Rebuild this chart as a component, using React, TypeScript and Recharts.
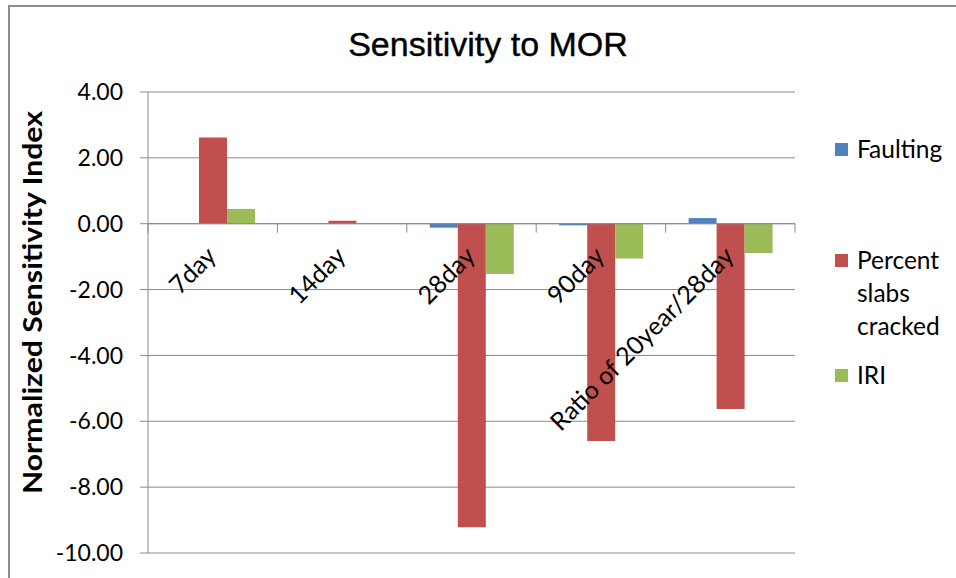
import {
  ComposedChart,
  Bar,
  Line,
  XAxis,
  YAxis,
  CartesianGrid,
  ReferenceLine,
  LabelList,
  Label,
} from "recharts";

const categories = ["7day", "14day", "28day", "90day", "Ratio of 20year/28day"];
const faulting = [0, 0, -0.12, -0.05, 0.17];
const percentSlabsCracked = [2.62, 0.09, -9.22, -6.6, -5.63];
const iri = [0.45, 0, -1.53, -1.06, -0.89];
const yTicks = [4, 2, 0, -2, -4, -6, -8, -10];

const series = [
  { key: "faulting", label: ["Faulting"], color: "#4F81BD" },
  { key: "percent", label: ["Percent", "slabs", "cracked"], color: "#C0504D" },
  { key: "iri", label: ["IRI"], color: "#9BBB59" },
];

const data = categories.map((name, i) => ({
  name,
  faulting: faulting[i],
  percent: percentSlabsCracked[i],
  iri: iri[i],
  zero: 0,
}));

const W = 956;
const H = 578;
const margin = { top: 92, right: 161, bottom: 25, left: 0 };
const yAxisWidth = 148;
const band = (W - margin.left - margin.right - yAxisWidth) / categories.length;
const grid = "#8a8a8a";
const font = "Lato, 'Open Sans', sans-serif";

function CategoryLabel(props: any) {
  const { x, y, value, index } = props;
  const ax = x + 5;
  const ay = y + 34;
  return (
    <g>
      <line x1={x - band / 2} x2={x - band / 2} y1={y} y2={y + 9} stroke={grid} />
      {index === categories.length - 1 && (
        <line x1={x + band / 2} x2={x + band / 2} y1={y} y2={y + 9} stroke={grid} />
      )}
      <text
        x={ax}
        y={ay}
        textAnchor="end"
        transform={`rotate(-45 ${ax} ${ay})`}
        fontFamily={font}
        fontSize={25}
        fill="#000"
      >
        {value}
      </text>
    </g>
  );
}

function YTitle(props: any) {
  const { viewBox } = props;
  const cx = 32;
  const cy = viewBox.y + viewBox.height / 2 - 20;
  return (
    <text
      x={cx}
      y={cy}
      textAnchor="middle"
      dominantBaseline="central"
      transform={`rotate(-90 ${cx} ${cy})`}
      fontFamily={font}
      fontWeight="bold"
      fontSize={26}
      textLength={383}
      lengthAdjust="spacingAndGlyphs"
      fill="#000"
    >
      Normalized Sensitivity Index
    </text>
  );
}

export default function App() {
  return (
    <div
      style={{
        position: "fixed",
        inset: 0,
        overflow: "hidden",
        background: "#fff",
      }}
    >
      <div
        style={{
          position: "absolute",
          left: 8,
          top: 5,
          width: 1000,
          height: 700,
          borderLeft: "2px solid #8c8c8c",
          borderTop: "2px solid #8c8c8c",
        }}
      />
      <div
        style={{
          position: "absolute",
          left: 0,
          top: 25,
          width: 976,
          textAlign: "center",
          fontFamily: "'Liberation Sans', Arial, sans-serif",
          fontSize: 34,
          color: "#000",
          WebkitTextStroke: "0.4px #000",
        }}
      >
        Sensitivity to MOR
      </div>
      <div style={{ position: "absolute", left: 0, top: 0 }}>
        <ComposedChart width={W} height={H} data={data} margin={margin} barGap={0}>
          <CartesianGrid vertical={false} stroke={grid} />
          <XAxis dataKey="name" hide />
          <YAxis
            width={yAxisWidth}
            domain={[-10, 4]}
            ticks={yTicks}
            interval={0}
            tickFormatter={(v: number) => v.toFixed(2)}
            tick={{ fill: "#000", fontSize: 23, fontFamily: font }}
            tickSize={8}
            tickMargin={17}
            axisLine={{ stroke: grid }}
            tickLine={{ stroke: grid }}
          >
            <Label content={YTitle} />
          </YAxis>
          {series.map((s) => (
            <Bar
              key={s.key}
              dataKey={s.key}
              fill={s.color}
              barSize={28}
              isAnimationActive={false}
            />
          ))}
          <ReferenceLine y={0} stroke={grid} />
          <Line
            dataKey="zero"
            stroke="none"
            dot={false}
            activeDot={false}
            isAnimationActive={false}
          >
            <LabelList dataKey="name" content={CategoryLabel} />
          </Line>
        </ComposedChart>
      </div>
      <div
        style={{
          position: "absolute",
          left: 835,
          top: 132,
          fontFamily: font,
          fontSize: 24.5,
          color: "#000",
        }}
      >
        {series.map((s, i) => (
          <div
            key={s.key}
            style={{
              display: "flex",
              alignItems: "flex-start",
              marginBottom: i === 0 ? 78 : 16,
            }}
          >
            <div
              style={{
                width: 13,
                height: 13,
                background: s.color,
                marginTop: 11,
                marginRight: 9,
              }}
            />
            <div style={{ lineHeight: "33px" }}>
              {s.label.map((t) => (
                <div key={t}>{t}</div>
              ))}
            </div>
          </div>
        ))}
      </div>
    </div>
  );
}
